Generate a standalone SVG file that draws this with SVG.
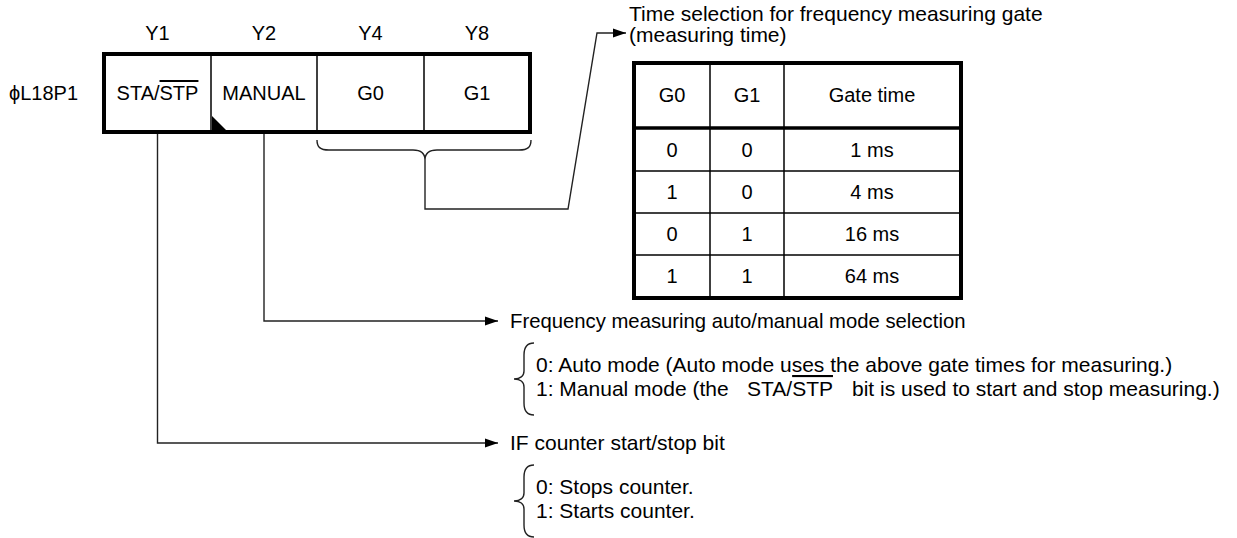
<svg xmlns="http://www.w3.org/2000/svg" width="1237" height="538" viewBox="0 0 1237 538">
<style>
text{font-family:"Liberation Sans",Arial,sans-serif;font-size:20px;fill:#000}
.d{font-size:21px}
.c{text-anchor:middle}
.ov{text-decoration:overline}
.thin{fill:none;stroke:#000;stroke-width:1.5}
.thick{fill:none;stroke:#000;stroke-width:4}
.conn{fill:none;stroke:#222;stroke-width:1.4}
</style>
<defs>
<marker id="arr" markerUnits="userSpaceOnUse" markerWidth="14" markerHeight="10" refX="13" refY="5" orient="auto">
<path d="M0,0.5 L13,5 L0,9.5 Z" fill="#000"/>
</marker>
</defs>
<rect width="1237" height="538" fill="#fff"/>

<g id="register">
<text x="9" y="100">ϕL18P1</text>
<text class="c" x="157.5" y="40">Y1</text>
<text class="c" x="264" y="40">Y2</text>
<text class="c" x="370.5" y="40">Y4</text>
<text class="c" x="477" y="40">Y8</text>
<line class="thin" x1="211" y1="54" x2="211" y2="132"/>
<line class="thin" x1="317" y1="54" x2="317" y2="132"/>
<line class="thin" x1="424" y1="54" x2="424" y2="132"/>
<rect class="thick" x="104" y="54" width="426" height="78"/>
<text class="c" x="157.5" y="100">STA/<tspan class="ov">STP</tspan></text>
<text class="c" x="264" y="100">MANUAL</text>
<text class="c" x="370.5" y="100">G0</text>
<text class="c" x="477" y="100">G1</text>
<path d="M212,116 L212,130 L226,130 Z" fill="#000"/>
</g>

<g id="gate-table">
<text class="d" x="629" y="21">Time selection for frequency measuring gate</text>
<text class="d" x="629" y="42">(measuring time)</text>
<line class="thin" x1="710" y1="63" x2="710" y2="298"/>
<line class="thin" x1="784" y1="63" x2="784" y2="298"/>
<line class="thin" x1="634" y1="171" x2="961" y2="171"/>
<line class="thin" x1="634" y1="213" x2="961" y2="213"/>
<line class="thin" x1="634" y1="255" x2="961" y2="255"/>
<line x1="634" y1="128" x2="961" y2="128" stroke="#000" stroke-width="3.5"/>
<rect class="thick" x="634" y="63" width="327" height="235"/>
<text class="c" x="672" y="102">G0</text>
<text class="c" x="747" y="102">G1</text>
<text class="c" x="872" y="102">Gate time</text>
<text class="c" x="672" y="157">0</text>
<text class="c" x="747" y="157">0</text>
<text class="c" x="872" y="157">1 ms</text>
<text class="c" x="672" y="199">1</text>
<text class="c" x="747" y="199">0</text>
<text class="c" x="872" y="199">4 ms</text>
<text class="c" x="672" y="241">0</text>
<text class="c" x="747" y="241">1</text>
<text class="c" x="872" y="241">16 ms</text>
<text class="c" x="672" y="283">1</text>
<text class="c" x="747" y="283">1</text>
<text class="c" x="872" y="283">64 ms</text>
</g>

<g id="manual-desc">
<text x="510" y="328" style="font-size:20.3px">Frequency measuring auto/manual mode selection</text>
<path class="conn" d="M534,343 C527,343 524,347 524,355 L524,371 C524,376 520,379 514,379 C520,379 524,382 524,387 L524,403 C524,411 527,415 534,415"/>
<text class="d" x="536" y="372">0: Auto mode (Auto mode uses the above gate times for measuring.)</text>
<text class="d" x="536" y="396">1: Manual mode (the</text>
<text class="d" x="747" y="396">STA/<tspan class="ov">STP</tspan></text>
<text class="d" x="852" y="396">bit is used to start and stop measuring.)</text>
</g>

<g id="stastp-desc">
<text class="d" x="510" y="450">IF counter start/stop bit</text>
<path class="conn" d="M534,465 C527,465 524,469 524,477 L524,493 C524,498 520,501 514,501 C520,501 524,504 524,509 L524,525 C524,533 527,537 534,537"/>
<text class="d" x="536" y="494">0: Stops counter.</text>
<text class="d" x="536" y="518">1: Starts counter.</text>
</g>

<g id="connectors">
<path class="conn" d="M317,140 C317,147 320,150 329,150 L413,150 C421,150 425,153 425,160 C425,153 429,150 437,150 L519,150 C528,150 531,147 531,140"/>
<polyline class="conn" points="425,160 425,209 568,209 597,33 626,33" marker-end="url(#arr)"/>
<polyline class="conn" points="264,134 264,321 498,321" marker-end="url(#arr)"/>
<polyline class="conn" points="157.5,134 157.5,443 498,443" marker-end="url(#arr)"/>
</g>
</svg>
